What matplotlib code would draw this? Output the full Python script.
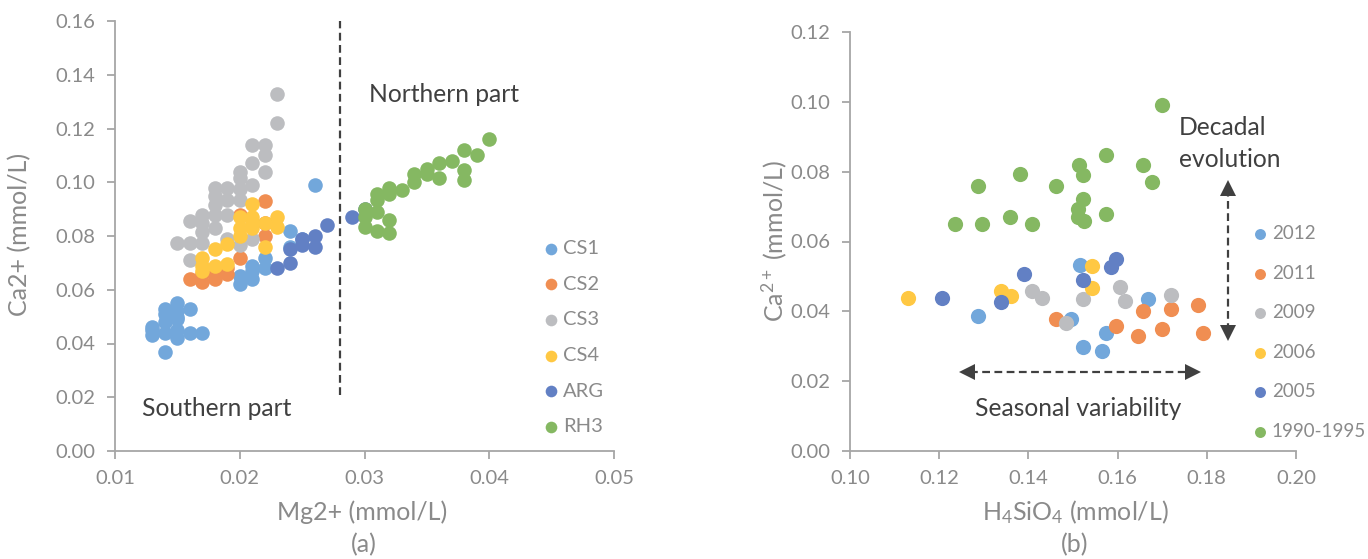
import matplotlib
matplotlib.use("Agg")
import matplotlib.pyplot as plt

plt.rcParams['font.family'] = ['Lato', 'DejaVu Sans']
plt.rcParams['mathtext.fontset'] = 'custom'
plt.rcParams['mathtext.rm'] = 'Lato'
plt.rcParams['mathtext.it'] = 'Lato:italic'
plt.rcParams['mathtext.bf'] = 'Lato:bold'

# ---------------- Panel (a) data ----------------
cs1_x = [0.013, 0.013, 0.013, 0.014, 0.014, 0.014, 0.014, 0.014, 0.015, 0.015, 0.015, 0.015,
         0.015, 0.015, 0.016, 0.016, 0.017, 0.020, 0.020, 0.021, 0.021, 0.021, 0.022, 0.022,
         0.024, 0.024, 0.025, 0.026]
cs1_y = [0.043, 0.045, 0.046, 0.037, 0.044, 0.048, 0.051, 0.053, 0.042, 0.045, 0.049, 0.052,
         0.055, 0.050, 0.044, 0.053, 0.044, 0.062, 0.065, 0.064, 0.067, 0.069, 0.068, 0.072,
         0.076, 0.082, 0.079, 0.099]
cs2_x = [0.016, 0.017, 0.017, 0.018, 0.018, 0.019, 0.019, 0.020, 0.020, 0.021, 0.022, 0.022, 0.022]
cs2_y = [0.064, 0.063, 0.066, 0.064, 0.066, 0.066, 0.068, 0.072, 0.088, 0.084, 0.093, 0.080, 0.085]
cs3_x = [0.023, 0.023, 0.021, 0.022, 0.022, 0.022, 0.021, 0.020, 0.020, 0.021, 0.019, 0.018,
         0.018, 0.017, 0.016, 0.015, 0.016, 0.016, 0.017, 0.018, 0.019, 0.020, 0.020, 0.021,
         0.019, 0.020, 0.018, 0.017, 0.017, 0.019, 0.018]
cs3_y = [0.133, 0.122, 0.114, 0.114, 0.110, 0.104, 0.107, 0.104, 0.1015, 0.099, 0.098, 0.098,
         0.095, 0.088, 0.0855, 0.0775, 0.071, 0.0775, 0.0815, 0.088, 0.0935, 0.0935, 0.0765,
         0.079, 0.079, 0.0975, 0.0915, 0.085, 0.0775, 0.088, 0.083]
cs4_x = [0.021, 0.020, 0.021, 0.022, 0.023, 0.023, 0.021, 0.020, 0.019, 0.018, 0.018, 0.017,
         0.017, 0.017, 0.019, 0.022, 0.021, 0.020]
cs4_y = [0.092, 0.087, 0.087, 0.085, 0.087, 0.0835, 0.083, 0.080, 0.077, 0.075, 0.069, 0.072,
         0.069, 0.067, 0.0695, 0.076, 0.085, 0.083]
arg_x = [0.023, 0.024, 0.024, 0.025, 0.025, 0.026, 0.026, 0.027, 0.029, 0.030]
arg_y = [0.068, 0.070, 0.075, 0.0765, 0.079, 0.076, 0.080, 0.084, 0.087, 0.090]
rh3_x = [0.030, 0.030, 0.030, 0.031, 0.031, 0.031, 0.031, 0.032, 0.032, 0.032, 0.032, 0.033,
         0.034, 0.034, 0.035, 0.035, 0.036, 0.036, 0.037, 0.038, 0.038, 0.038, 0.039, 0.040]
rh3_y = [0.090, 0.087, 0.0835, 0.0955, 0.0935, 0.089, 0.082, 0.098, 0.0955, 0.086, 0.081, 0.097,
         0.103, 0.100, 0.105, 0.103, 0.107, 0.1015, 0.108, 0.112, 0.1045, 0.101, 0.110, 0.116]

groups_a = ['CS1', 'CS2', 'CS3', 'CS4', 'ARG', 'RH3']
xs_a = [cs1_x, cs2_x, cs3_x, cs4_x, arg_x, rh3_x]
ys_a = [cs1_y, cs2_y, cs3_y, cs4_y, arg_y, rh3_y]

# ---------------- Panel (b) data ----------------
y2012_x = [0.1288, 0.1495, 0.1516, 0.1523, 0.1566, 0.1575, 0.1669]
y2012_y = [0.0388, 0.0379, 0.0532, 0.0299, 0.0287, 0.0337, 0.0436]
y2011_x = [0.1461, 0.1596, 0.1646, 0.1657, 0.1699, 0.1719, 0.1781, 0.1791]
y2011_y = [0.0379, 0.0359, 0.0328, 0.0400, 0.0349, 0.0408, 0.0417, 0.0337]
y2009_x = [0.1409, 0.1431, 0.1484, 0.1523, 0.1605, 0.1616, 0.1719]
y2009_y = [0.0458, 0.0438, 0.0366, 0.0436, 0.0469, 0.0429, 0.0448]
y2006_x = [0.1131, 0.1338, 0.1360, 0.1543, 0.1543]
y2006_y = [0.0438, 0.0458, 0.0443, 0.0530, 0.0467]
y2005_x = [0.1206, 0.1338, 0.1390, 0.1523, 0.1586, 0.1596]
y2005_y = [0.0438, 0.0427, 0.0508, 0.0489, 0.0528, 0.0549]
y1990_x = [0.1700, 0.1236, 0.1288, 0.1297, 0.1358, 0.1381, 0.1409, 0.1461, 0.1513, 0.1523,
           0.1523, 0.1512, 0.1512, 0.1525, 0.1575, 0.1575, 0.1657, 0.1678]
y1990_y = [0.0990, 0.0650, 0.0760, 0.0650, 0.0669, 0.0794, 0.0650, 0.0760, 0.0820, 0.0791,
           0.0722, 0.0693, 0.0671, 0.0659, 0.0849, 0.0680, 0.0820, 0.0770]

groups_b = ['2012', '2011', '2009', '2006', '2005', '1990-1995']
xs_b = [y2012_x, y2011_x, y2009_x, y2006_x, y2005_x, y1990_x]
ys_b = [y2012_y, y2011_y, y2009_y, y2006_y, y2005_y, y1990_y]

colors = ['#72A7DB', '#F08E52', '#BCBDC0', '#FFC843', '#6280C4', '#85B862']

W, H = 1368, 559
fig = plt.figure(figsize=(W / 100, H / 100), dpi=100)

tick_c = '#8A8A8A'
spine_c = '#A6A6A6'
dark = '#404040'
fs_tick = 14.5
fs_lab = 18
fs_ann = 17.7


def style(ax):
    for s in ['top', 'right']:
        ax.spines[s].set_visible(False)
    for s in ['left', 'bottom']:
        ax.spines[s].set_color(spine_c)
        ax.spines[s].set_linewidth(1.3)
    ax.tick_params(axis='both', colors=spine_c, labelcolor=tick_c, labelsize=fs_tick,
                   length=6, width=1.3, direction='out', pad=8)


# ---- panel (a)
ax1 = fig.add_axes([115 / W, 1 - 451 / H, (614 - 115) / W, (451 - 21) / H])
for x, y, c, g in zip(xs_a, ys_a, colors, groups_a):
    ax1.scatter(x, y, s=110, color=c, label=g, linewidths=0, zorder=3)
ax1.set_xlim(0.01, 0.05)
ax1.set_ylim(0, 0.16)
ax1.set_xticks([0.01, 0.02, 0.03, 0.04, 0.05])
ax1.set_yticks([0.00, 0.02, 0.04, 0.06, 0.08, 0.10, 0.12, 0.14, 0.16])
ax1.xaxis.set_major_formatter(matplotlib.ticker.FormatStrFormatter('%.2f'))
ax1.yaxis.set_major_formatter(matplotlib.ticker.FormatStrFormatter('%.2f'))
style(ax1)
ax1.plot([0.028, 0.028], [0.021, 0.16], ls=(0, (3.5, 2)), color=dark, lw=1.6, zorder=2)
ax1.text(0.0304, 0.1325, 'Northern part', fontsize=fs_ann, color=dark, va='center', ha='left')
ax1.text(0.0122, 0.0157, 'Southern part', fontsize=fs_ann, color=dark, va='center', ha='left')
ax1.legend(loc='upper left', bbox_to_anchor=(545 / W, 1 - 240 / H), bbox_transform=fig.transFigure,
           frameon=False, fontsize=fs_tick, labelcolor=tick_c, handlelength=0.6, handletextpad=0.3,
           labelspacing=0.92, borderaxespad=0, borderpad=0, markerscale=0.8)
fig.text(362 / W, 1 - 512 / H, 'Mg2+ (mmol/L)', ha='center', va='center', fontsize=fs_lab, color=tick_c)
fig.text(364 / W, 1 - 545 / H, '(a)', ha='center', va='center', fontsize=fs_lab, color=tick_c)
fig.text(20 / W, 1 - 234 / H, 'Ca2+ (mmol/L)', ha='center', va='center', rotation=90,
         fontsize=fs_lab, color=tick_c)

# ---- panel (b)
ax2 = fig.add_axes([850 / W, 1 - 451 / H, (1296 - 850) / W, (451 - 32) / H])
for x, y, c, g in zip(xs_b, ys_b, colors, groups_b):
    ax2.scatter(x, y, s=120, color=c, label=g, linewidths=0, zorder=3)
ax2.set_xlim(0.10, 0.20)
ax2.set_ylim(0, 0.12)
ax2.set_xticks([0.10, 0.12, 0.14, 0.16, 0.18, 0.20])
ax2.set_yticks([0.00, 0.02, 0.04, 0.06, 0.08, 0.10, 0.12])
ax2.xaxis.set_major_formatter(matplotlib.ticker.FormatStrFormatter('%.2f'))
ax2.yaxis.set_major_formatter(matplotlib.ticker.FormatStrFormatter('%.2f'))
style(ax2)

# vertical double arrow (decadal evolution)
ax2.plot([0.1847, 0.1847], [0.0345, 0.0745], ls=(0, (3.5, 2)), color=dark, lw=1.6, zorder=2)
ax2.plot([0.1847], [0.0752], marker='^', ms=12, color=dark, mew=0, zorder=2)
ax2.plot([0.1847], [0.0338], marker='v', ms=12, color=dark, mew=0, zorder=2)
# horizontal double arrow (seasonal variability)
ax2.plot([0.1270, 0.1762], [0.0227, 0.0227], ls=(0, (3.5, 2)), color=dark, lw=1.6, zorder=2)
ax2.plot([0.1262], [0.0227], marker='<', ms=12, color=dark, mew=0, zorder=2)
ax2.plot([0.1770], [0.0227], marker='>', ms=12, color=dark, mew=0, zorder=2)
ax2.text(0.1512, 0.0123, 'Seasonal variability', fontsize=fs_ann, color=dark, ha='center', va='center')
ax2.text(0.1738, 0.0880, 'Decadal\nevolution', fontsize=fs_ann, color=dark, ha='left', va='center',
         linespacing=1.5)
ax2.legend(loc='upper left', bbox_to_anchor=(1254 / W, 1 - 225 / H), bbox_transform=fig.transFigure,
           frameon=False, fontsize=13.5, labelcolor=tick_c, handlelength=0.6, handletextpad=0.35,
           labelspacing=1.2, borderaxespad=0, borderpad=0, markerscale=0.72)
fig.text(1075 / W, 1 - 512 / H, r'H$_4$SiO$_4$ (mmol/L)', ha='center', va='center', fontsize=fs_lab,
         color=tick_c)
fig.text(1075 / W, 1 - 545 / H, '(b)', ha='center', va='center', fontsize=fs_lab, color=tick_c)
fig.text(774 / W, 1 - 241 / H, r'Ca$^{2+}$ (mmol/L)', ha='center', va='center', rotation=90,
         fontsize=fs_lab, color=tick_c)

fig.savefig('out.png', dpi=100, facecolor='white')
